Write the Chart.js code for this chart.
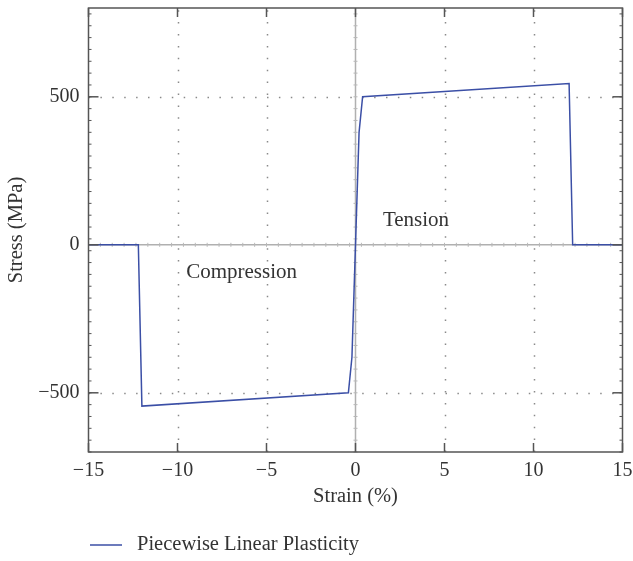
<!DOCTYPE html>
<html><head><meta charset="utf-8">
<script src="https://cdn.jsdelivr.net/npm/chart.js@4"></script>
<style>html,body{margin:0;padding:0;background:#fff}</style>
</head><body>
<canvas id="c" width="633" height="561"></canvas>
<script>
// ---- data ----
const strain = [-15, -12.2, -12.0, -0.4, -0.2, 0, 0.2, 0.4, 12.0, 12.2, 15];
const stress = [0, 0, -545, -500, -380, 0, 380, 500, 545, 0, 0];
const xTicks = [-15, -10, -5, 0, 5, 10, 15];
const yTicks = [-500, 0, 500];
const seriesName = 'Piecewise Linear Plasticity';
const xTitle = 'Strain (%)';
const yTitle = 'Stress (MPa)';
const noteLabels = ['Tension', 'Compression'];
const noteX = [3.4, -6.4];
const noteY = [83, -95];

// ---- styles ----
const FONT = 'Liberation Serif';
const TXT = '#333';
const LINE = '#3b4fa6';
const fmt = v => (v < 0 ? '\u2212' + Math.abs(v) : String(v));

const framePlugin = {
  id: 'frame',
  beforeDatasetsDraw(chart) {
    const {ctx, chartArea: a, scales: {x, y}} = chart;
    ctx.save();
    // dotted grid
    ctx.strokeStyle = '#8a8a8a';
    ctx.lineWidth = 1.5;
    ctx.setLineDash([1.5, 10.4]);
    xTicks.forEach(v => {
      if (v === 0 || v === x.min || v === x.max) return;
      const px = Math.round(x.getPixelForValue(v)) + 0.5;
      ctx.beginPath(); ctx.moveTo(px, a.bottom); ctx.lineTo(px, a.top); ctx.stroke();
    });
    yTicks.forEach(v => {
      if (v === 0) return;
      const py = Math.round(y.getPixelForValue(v)) + 0.5;
      ctx.beginPath(); ctx.moveTo(a.left, py); ctx.lineTo(a.right, py); ctx.stroke();
    });
    ctx.setLineDash([]);
    // zero axes
    ctx.strokeStyle = '#b0b0b0';
    ctx.lineWidth = 1.5;
    const x0 = x.getPixelForValue(0), y0 = y.getPixelForValue(0);
    ctx.beginPath(); ctx.moveTo(a.left, y0); ctx.lineTo(a.right, y0); ctx.stroke();
    ctx.beginPath(); ctx.moveTo(x0, a.top); ctx.lineTo(x0, a.bottom); ctx.stroke();
    ctx.lineWidth = 1;
    ctx.strokeStyle = '#b8b8b8';
    for (let v = x.min; v <= x.max; v += 2 / 3) {
      const px = x.getPixelForValue(v);
      ctx.beginPath(); ctx.moveTo(px, y0 - 2); ctx.lineTo(px, y0 + 2); ctx.stroke();
    }
    for (let v = y.min; v <= y.max; v += 40) {
      const py = y.getPixelForValue(v);
      ctx.beginPath(); ctx.moveTo(x0 - 2, py); ctx.lineTo(x0 + 2, py); ctx.stroke();
    }
    ctx.restore();
  },
  afterDatasetsDraw(chart) {
    const {ctx, chartArea: a, scales: {x, y}} = chart;
    ctx.save();
    ctx.strokeStyle = '#555';
    ctx.lineWidth = 1.5;
    ctx.strokeRect(a.left, a.top, a.right - a.left, a.bottom - a.top);
    // major ticks
    xTicks.forEach(v => {
      const px = x.getPixelForValue(v);
      ctx.beginPath(); ctx.moveTo(px, a.bottom); ctx.lineTo(px, a.bottom - 9); ctx.stroke();
      ctx.beginPath(); ctx.moveTo(px, a.top); ctx.lineTo(px, a.top + 9); ctx.stroke();
    });
    yTicks.forEach(v => {
      const py = y.getPixelForValue(v);
      ctx.beginPath(); ctx.moveTo(a.left, py); ctx.lineTo(a.left + 10, py); ctx.stroke();
      ctx.beginPath(); ctx.moveTo(a.right, py); ctx.lineTo(a.right - 10, py); ctx.stroke();
    });
    // minor ticks left/right
    ctx.lineWidth = 1;
    for (let v = y.min; v <= y.max; v += 40) {
      const py = y.getPixelForValue(v);
      ctx.beginPath(); ctx.moveTo(a.left, py); ctx.lineTo(a.left + 3, py); ctx.stroke();
      ctx.beginPath(); ctx.moveTo(a.right, py); ctx.lineTo(a.right - 3, py); ctx.stroke();
    }
    ctx.restore();
  },
  afterDraw(chart) {
    const {ctx, chartArea: a, scales: {x, y}} = chart;
    ctx.save();
    ctx.font = '21px "' + FONT + '"';
    ctx.fillStyle = TXT;
    ctx.textAlign = 'center';
    ctx.textBaseline = 'middle';
    noteLabels.forEach((t, i) => ctx.fillText(t, x.getPixelForValue(noteX[i]), y.getPixelForValue(noteY[i])));
    // legend
    const ly = 545;
    ctx.font = '20.5px "' + FONT + '"';
    ctx.strokeStyle = LINE;
    ctx.lineWidth = 1.5;
    ctx.beginPath(); ctx.moveTo(a.left + 1.5, ly); ctx.lineTo(a.left + 33.5, ly); ctx.stroke();
    ctx.textAlign = 'left';
    ctx.fillText(seriesName, a.left + 48.5, ly);
    ctx.restore();
  }
};

new Chart(document.getElementById('c'), {
  type: 'scatter',
  data: {
    datasets: [{
      label: seriesName,
      data: strain.map((s, i) => ({x: s, y: stress[i]})),
      showLine: true,
      borderColor: LINE,
      backgroundColor: LINE,
      borderWidth: 1.5,
      pointRadius: 0,
      tension: 0
    }]
  },
  options: {
    responsive: false,
    animation: false,
    devicePixelRatio: 1,
    layout: {padding: {top: 8, right: 10.5, left: 0, bottom: 51}},
    plugins: {legend: {display: false}, tooltip: {enabled: false}},
    scales: {
      x: {
        type: 'linear', min: -15, max: 15,
        afterBuildTicks: s => { s.ticks = xTicks.map(v => ({value: v})); },
        afterFit: s => { s.height = 58; s.paddingLeft = 0; s.paddingRight = 0; },
        ticks: {callback: fmt, font: {family: FONT, size: 20}, color: TXT, padding: -1, maxRotation: 0, autoSkip: false},
        grid: {display: false},
        border: {display: false},
        title: {display: true, text: xTitle, font: {family: FONT, size: 20.5}, color: TXT, padding: {top: 0, bottom: 1}}
      },
      y: {
        type: 'linear', min: -700, max: 800,
        afterBuildTicks: s => { s.ticks = yTicks.map(v => ({value: v})); },
        afterFit: s => { s.width = 88.5; s.paddingTop = 0; s.paddingBottom = 0; },
        ticks: {callback: fmt, font: {family: FONT, size: 20}, color: TXT, padding: 1, autoSkip: false},
        grid: {display: false},
        border: {display: false},
        title: {display: true, text: yTitle, font: {family: FONT, size: 20.5}, color: TXT, padding: {top: 4, bottom: 0}}
      }
    }
  },
  plugins: [framePlugin]
});
</script>
</body></html>
